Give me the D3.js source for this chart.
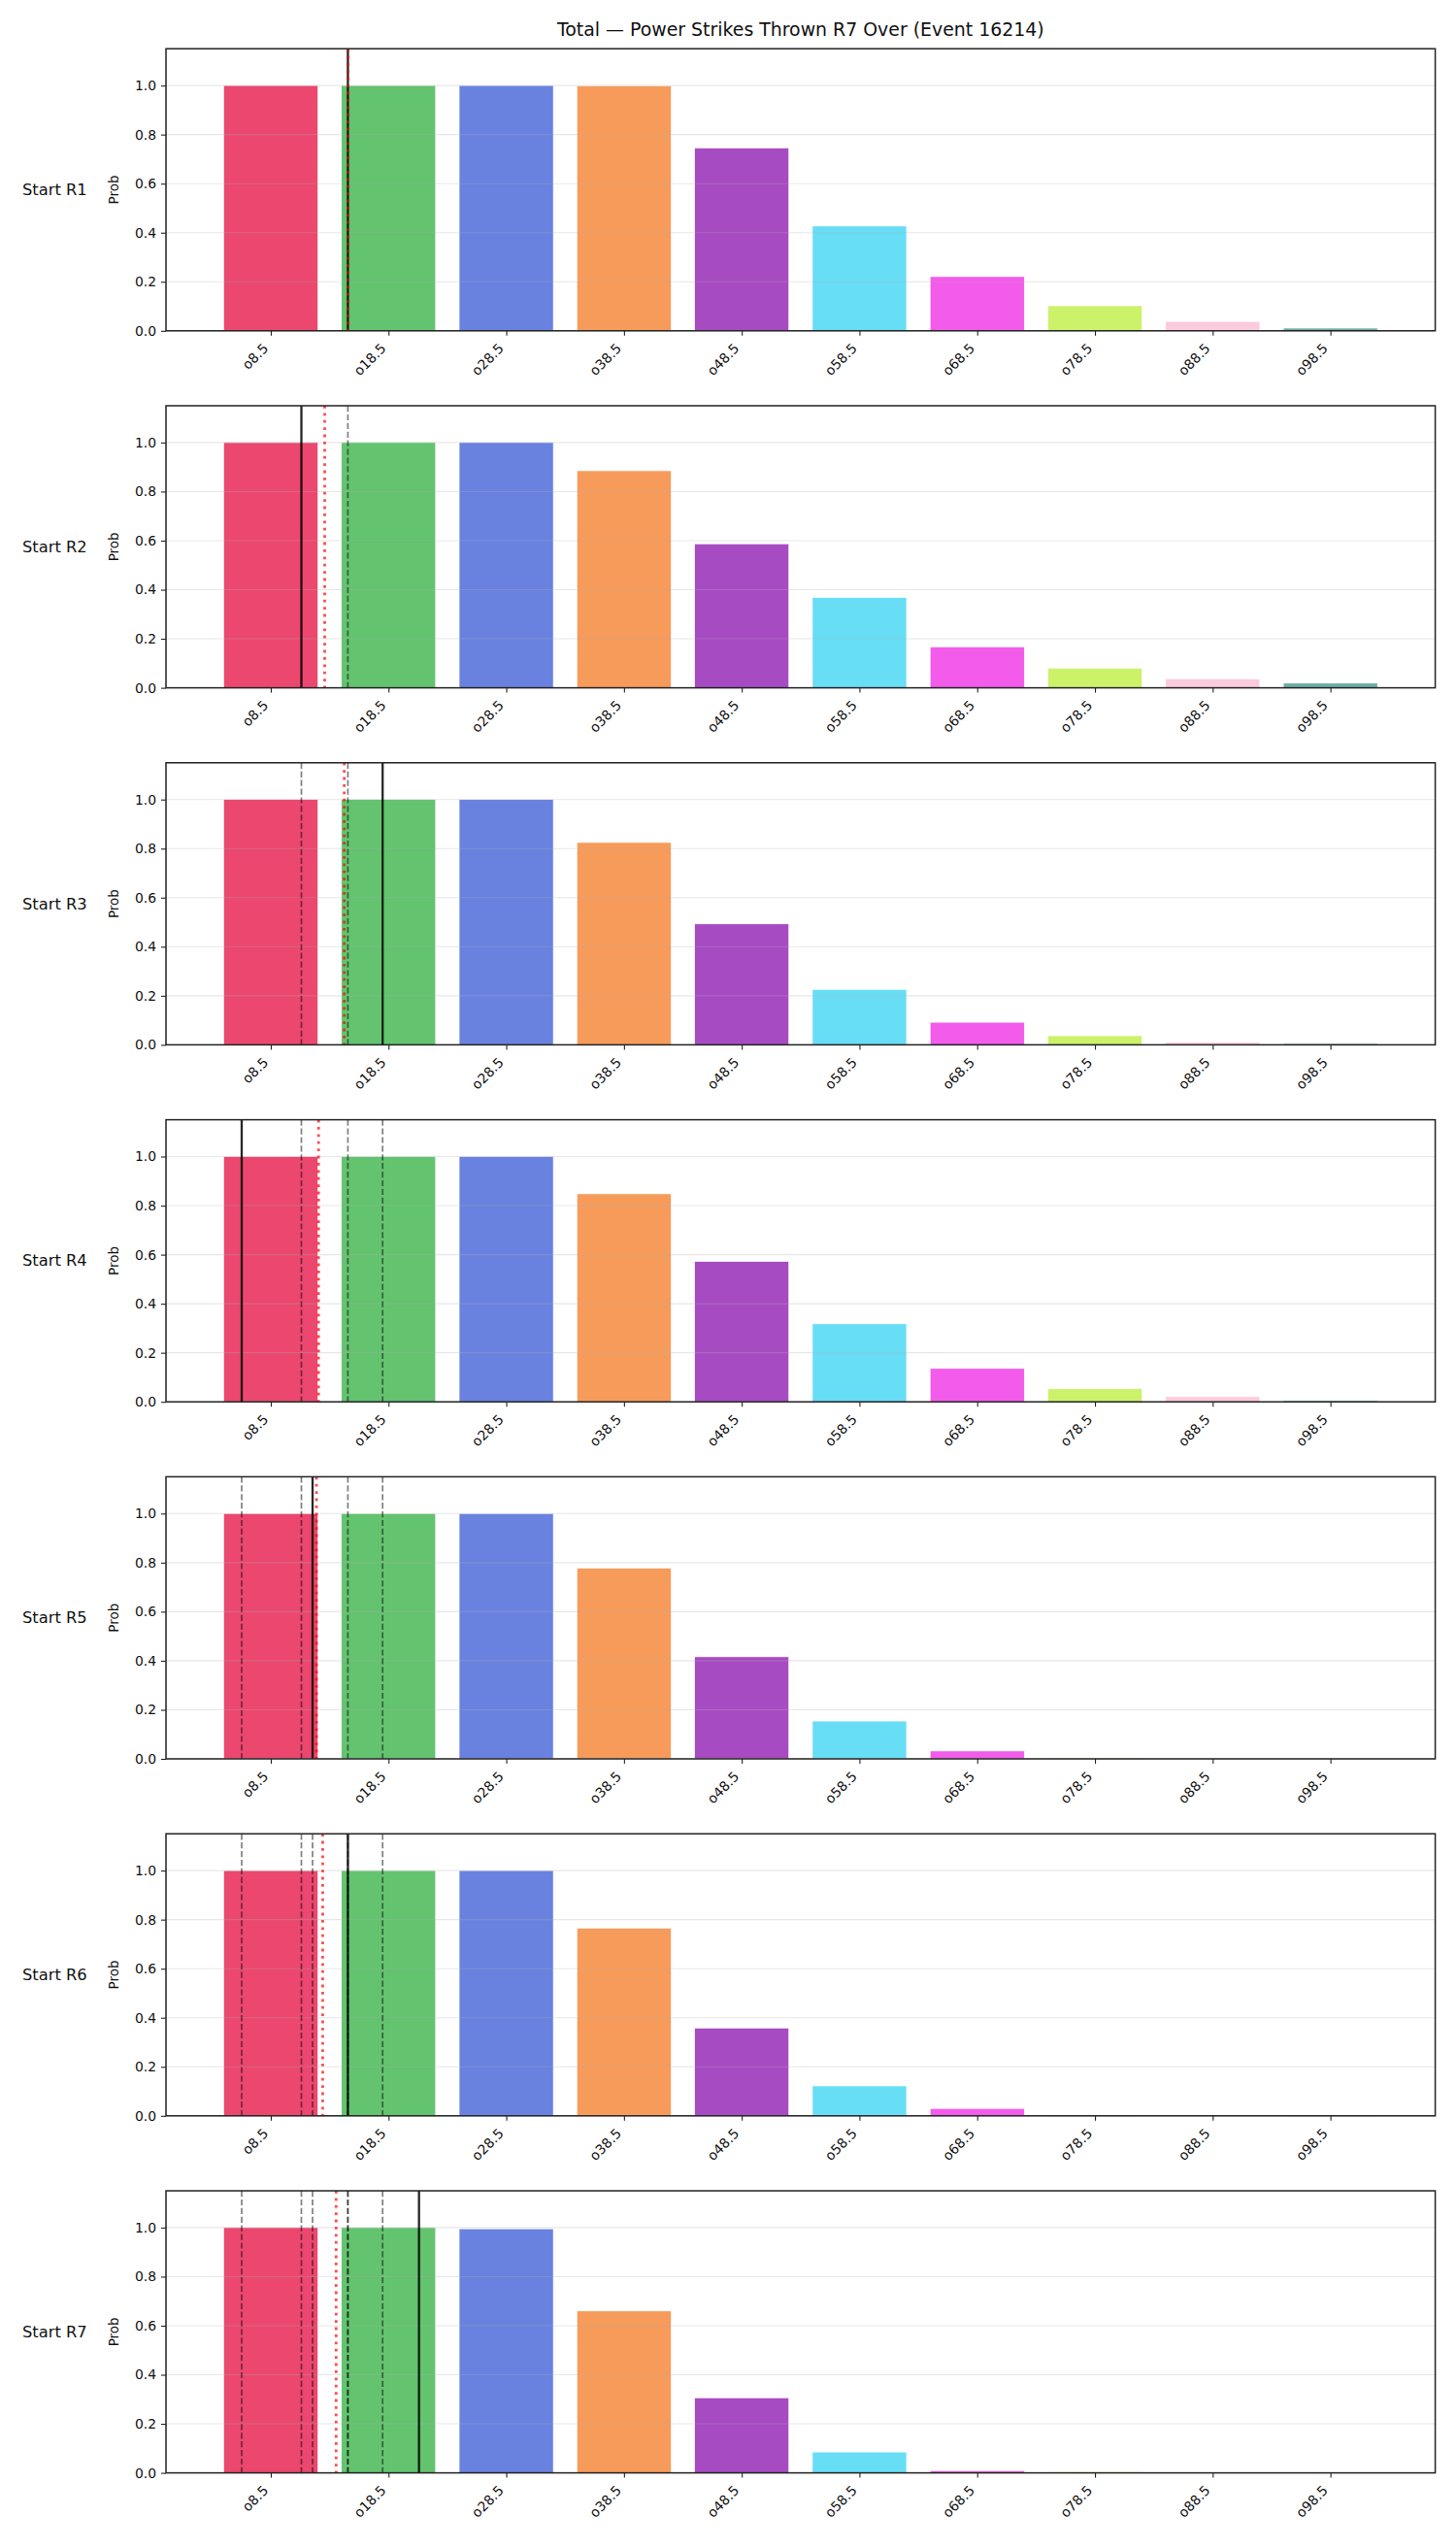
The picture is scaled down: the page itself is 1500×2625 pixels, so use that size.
<!DOCTYPE html>
<html>
<head>
<meta charset="utf-8">
<script src="https://cdn.jsdelivr.net/npm/d3@7"></script>
<style>
  body { margin: 0; background: #fff; }
  svg { font-family: "DejaVu Sans", sans-serif; display: block; }
</style>
</head>
<body>
<div id="viz"></div>
<script>
const chartTitle = "Total \u2014 Power Strikes Thrown R7 Over (Event 16214)";

const lineLabels = ["o8.5", "o18.5", "o28.5", "o38.5", "o48.5", "o58.5", "o68.5", "o78.5", "o88.5", "o98.5"];
const rounds = ["Start R1", "Start R2", "Start R3", "Start R4", "Start R5", "Start R6", "Start R7"];

// P(over) for each line, one array per starting round
const probR1 = [1.0, 1.0, 1.0, 0.998, 0.745, 0.427, 0.221, 0.102, 0.038, 0.011];
const probR2 = [1.0, 1.0, 1.0, 0.885, 0.587, 0.368, 0.166, 0.080, 0.037, 0.019];
const probR3 = [1.0, 1.0, 1.0, 0.825, 0.493, 0.226, 0.092, 0.037, 0.010, 0.005];
const probR4 = [1.0, 1.0, 1.0, 0.848, 0.572, 0.318, 0.136, 0.053, 0.021, 0.005];
const probR5 = [1.0, 1.0, 1.0, 0.777, 0.416, 0.154, 0.032, 0.004, 0.001, 0.0005];
const probR6 = [1.0, 1.0, 1.0, 0.765, 0.358, 0.122, 0.030, 0.003, 0.0005, 0.0003];
const probR7 = [1.0, 1.0, 0.995, 0.660, 0.306, 0.085, 0.009, 0.004, 0.0005, 0.0002];
const probs = [probR1, probR2, probR3, probR4, probR5, probR6, probR7];

// strikes marked on each panel: solid = value at round start, dotted = projection
const startStrikes = [15.05, 11.1, 18.0, 6.03, 12.05, 15.05, 21.09];
const projStrikes = [15.06, 13.08, 14.74, 12.56, 12.38, 12.91, 14.05];

const barColors = ["#e6194b", "#3cb44b", "#4363d8", "#f58231", "#911eb4",
  "#42d4f4", "#f032e6", "#bfef45", "#fabed4", "#469990"];

const width = 1500;
const height = 2625;
const left = 171, right = 1478.6;
const firstTop = 50.2, pitch = 367.8, plotH = 290.6;
const ink = "#222";

const thresholds = lineLabels.map(s => parseFloat(s.slice(1)));

const svg = d3.select("#viz").append("svg")
  .attr("width", width)
  .attr("height", height);

svg.append("text")
  .attr("x", (left + right) / 2)
  .attr("y", 37)
  .attr("text-anchor", "middle")
  .attr("font-size", 18.9)
  .attr("fill", "#111")
  .text(chartTitle);

const x = d3.scaleLinear().domain([-0.4, 107.4]).range([left, right]);
const barW = x(8) - x(0);
const y = d3.scaleLinear().domain([0, 1.15]).range([plotH, 0]);

svg.append("defs").append("clipPath").attr("id", "plotclip")
  .append("rect").attr("x", left).attr("y", 0).attr("width", right - left).attr("height", plotH);

rounds.forEach(function (name, r) {
  const g = svg.append("g").attr("transform", `translate(0,${firstTop + r * pitch})`);

  // bars
  g.append("g").selectAll("rect")
    .data(probs[r])
    .enter()
    .append("rect")
    .attr("x", (d, i) => x(thresholds[i]) - barW / 2)
    .attr("width", barW)
    .attr("y", d => y(d))
    .attr("height", d => y(0) - y(d))
    .attr("fill", (d, i) => barColors[i])
    .attr("fill-opacity", 0.8)
    .attr("stroke", "#fff")
    .attr("stroke-width", 0.6);

  // horizontal grid
  g.append("g").selectAll("line")
    .data(d3.range(0, 1.01, 0.2))
    .enter()
    .append("line")
    .attr("x1", left).attr("x2", right)
    .attr("y1", d => y(d)).attr("y2", d => y(d))
    .attr("stroke", "#b0b0b0")
    .attr("stroke-opacity", 0.3)
    .attr("stroke-width", 1.1);

  const marks = g.append("g").attr("clip-path", "url(#plotclip)");

  // earlier rounds' start values
  marks.selectAll("line.prev")
    .data(startStrikes.slice(0, r))
    .enter()
    .append("line")
    .attr("class", "prev")
    .attr("x1", d => x(d)).attr("x2", d => x(d))
    .attr("y1", 0).attr("y2", plotH)
    .attr("stroke", "#000")
    .attr("stroke-opacity", 0.5)
    .attr("stroke-width", 1.7)
    .attr("stroke-dasharray", "6.2,2.7");

  marks.append("line")
    .attr("x1", x(startStrikes[r])).attr("x2", x(startStrikes[r]))
    .attr("y1", 0).attr("y2", plotH)
    .attr("stroke", "#000")
    .attr("stroke-opacity", 0.85)
    .attr("stroke-width", 2.3);

  marks.append("line")
    .attr("x1", x(projStrikes[r])).attr("x2", x(projStrikes[r]))
    .attr("y1", 0).attr("y2", plotH)
    .attr("stroke", "red")
    .attr("stroke-opacity", 0.7)
    .attr("stroke-width", 2.8)
    .attr("stroke-dasharray", "2.8,4.6");

  // axes
  const yAxis = g.append("g")
    .attr("transform", `translate(${left},0)`)
    .call(d3.axisLeft(y).tickValues([0, 0.2, 0.4, 0.6, 0.8, 1.0])
      .tickFormat(d3.format(".1f")).tickSize(5).tickPadding(5));
  yAxis.select(".domain").remove();
  yAxis.selectAll("line").attr("stroke", ink).attr("stroke-width", 1.1);
  yAxis.selectAll("text").attr("font-size", 13.9).attr("fill", "#111")
    .attr("font-family", "DejaVu Sans");

  const xAxis = g.append("g")
    .attr("transform", `translate(0,${plotH})`)
    .call(d3.axisBottom(x).tickValues(thresholds)
      .tickFormat((d, i) => lineLabels[i]).tickSize(5));
  xAxis.select(".domain").remove();
  xAxis.selectAll("line").attr("stroke", ink).attr("stroke-width", 1.1);
  xAxis.selectAll("text")
    .attr("font-size", 13.9)
    .attr("fill", "#111")
    .attr("font-family", "DejaVu Sans")
    .attr("text-anchor", "end")
    .attr("y", 0).attr("dy", 0)
    .attr("transform", "translate(-2.3,19) rotate(-45)");

  // frame
  g.append("rect")
    .attr("x", left).attr("y", 0)
    .attr("width", right - left).attr("height", plotH)
    .attr("fill", "none")
    .attr("stroke", ink)
    .attr("stroke-width", 1.5);

  g.append("text")
    .attr("transform", `translate(117,${plotH / 2}) rotate(-90)`)
    .attr("text-anchor", "middle")
    .attr("dominant-baseline", "central")
    .attr("font-size", 13.5)
    .attr("fill", "#111")
    .text("Prob");

  g.append("text")
    .attr("x", 23)
    .attr("y", plotH / 2)
    .attr("dominant-baseline", "central")
    .attr("font-size", 16.3)
    .attr("fill", "#111")
    .text(name);
});
</script>
</body>
</html>
